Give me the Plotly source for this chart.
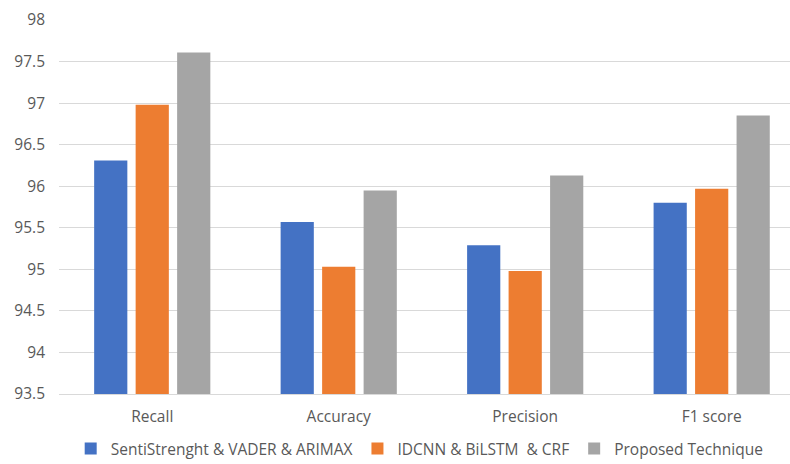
import plotly.graph_objects as go

categories = ["Recall", "Accuracy", "Precision", "F1 score"]
series_names = ["SentiStrenght & VADER & ARIMAX", "IDCNN & BiLSTM  & CRF", "Proposed Technique"]
senti_vader_arimax = [96.31, 95.57, 95.29, 95.80]
idcnn_bilstm_crf = [96.98, 95.03, 94.98, 95.97]
proposed_technique = [97.61, 95.95, 96.13, 96.85]
y_ticks = [93.5, 94, 94.5, 95, 95.5, 96, 96.5, 97, 97.5, 98]
colors = ["#4472C4", "#ED7D31", "#A5A5A5"]

fig = go.Figure()
for name, vals, c in zip(series_names, [senti_vader_arimax, idcnn_bilstm_crf, proposed_technique], colors):
    fig.add_trace(go.Bar(x=categories, y=vals, name=name, marker=dict(color=c, line=dict(width=0))))

font = "Open Sans, Noto Sans, sans-serif"
fig.update_layout(
    width=790, height=464,
    margin=dict(l=59, r=0, t=20, b=70, autoexpand=False),
    paper_bgcolor="white", plot_bgcolor="white",
    barmode="group", bargap=0.3325, bargroupgap=0.2,
    font=dict(family=font, size=15, color="#595959"),
    showlegend=True,
    legend=dict(orientation="h", x=0.016, xanchor="left", y=-0.147, yanchor="middle",
                font=dict(size=15.5, color="#595959"), itemwidth=30),
    xaxis=dict(type="category", range=[-0.5, 3.42], showgrid=False, showline=True,
               linecolor="#D9D9D9", linewidth=1, ticks="", ticklabelstandoff=8,
               tickfont=dict(size=15.5, color="#595959")),
    yaxis=dict(range=[93.5, 98], tickvals=y_ticks, ticktext=[f"{t:g}" for t in y_ticks],
               showgrid=True, gridcolor="#D9D9D9", gridwidth=1, zeroline=False, showline=False,
               ticks="", ticklabelstandoff=13, tickfont=dict(size=15.5, color="#595959")),
)

fig.write_html("out.html")
